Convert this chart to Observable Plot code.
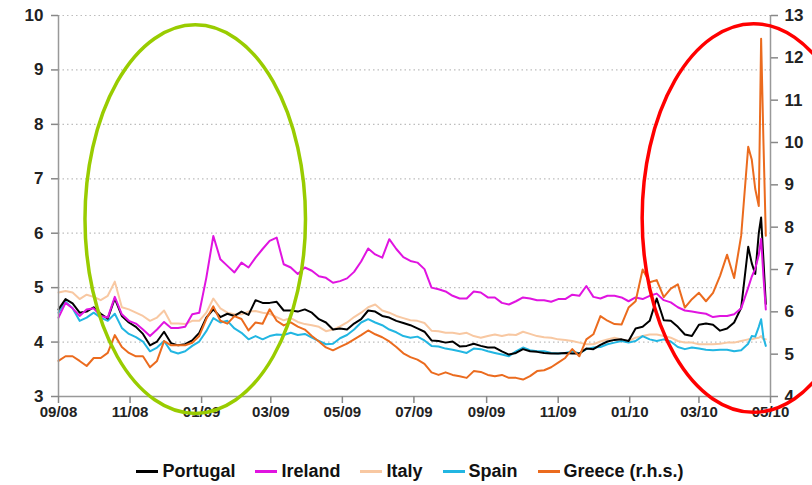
<!DOCTYPE html>
<html><head><meta charset="utf-8">
<script src="https://cdn.jsdelivr.net/npm/d3@7"></script>
<script src="https://cdn.jsdelivr.net/npm/@observablehq/plot@0.6"></script>
<style>
body{margin:0;background:#fff;font-family:"Liberation Sans",Arial,sans-serif;}
#legend{display:flex;justify-content:center;align-items:center;height:33px;padding-top:3px;font-weight:bold;font-size:18px;color:#111;padding-left:8px}
#legend .it{display:flex;align-items:center;margin:0 10px}
#legend .sw{display:inline-block;width:22px;height:3px;margin-right:4px}
</style></head><body><div id="chart"></div><div id="legend"></div>
<script>
// sample positions: days after 2008-09-01
const days = [0,6,12,18,24,30,36,42,48,54,60,66,72,78,84,90,96,102,108,114,120,126,132,138,144,150,156,162,168,174,180,186,192,198,204,210,216,222,228,234,240,246,252,258,264,270,276,282,288,294,300,306,312,318,324,330,336,342,348,354,360,366,372,378,384,390,396,402,408,414,420,426,432,438,444,450,456,462,468,474,480,486,492,498,504,510,516,522,528,534,540,546,552,558,564,570,576,582,588,591,594,597,599,601,603];
const portugal = [4.60,4.79,4.71,4.54,4.56,4.64,4.52,4.43,4.80,4.48,4.36,4.28,4.15,3.94,4.01,4.19,3.98,3.94,3.96,4.03,
 4.17,4.45,4.60,4.46,4.52,4.48,4.56,4.50,4.77,4.72,4.72,4.74,4.58,4.58,4.56,4.60,4.54,4.42,4.36,4.23,
 4.25,4.23,4.34,4.42,4.58,4.56,4.48,4.45,4.39,4.35,4.31,4.25,4.19,4.03,4.02,3.99,4.01,3.92,3.93,3.97,
 3.93,3.90,3.90,3.83,3.77,3.80,3.87,3.83,3.82,3.80,3.79,3.79,3.80,3.79,3.79,3.88,3.87,3.95,4.01,4.04,
 4.05,4.02,4.25,4.28,4.39,4.80,4.40,4.39,4.28,4.14,4.11,4.32,4.34,4.32,4.21,4.25,4.36,4.63,5.75,
 5.45,5.25,6.00,6.29,5.50,4.70];
const ireland = [4.45,4.72,4.62,4.48,4.60,4.62,4.48,4.45,4.83,4.51,4.39,4.34,4.23,4.11,4.23,4.37,4.26,4.26,4.28,4.51,
 4.54,5.18,5.95,5.52,5.40,5.28,5.46,5.37,5.55,5.71,5.86,5.92,5.43,5.37,5.25,5.37,5.31,5.21,5.18,5.09,
 5.12,5.17,5.29,5.48,5.72,5.61,5.55,5.89,5.71,5.56,5.49,5.46,5.34,5.00,4.97,4.93,4.85,4.80,4.80,4.93,
 4.91,4.82,4.82,4.72,4.69,4.75,4.82,4.80,4.77,4.77,4.74,4.79,4.79,4.87,4.85,5.03,4.83,4.80,4.85,4.85,
 4.82,4.75,4.82,4.79,4.85,4.89,4.77,4.73,4.64,4.58,4.56,4.54,4.52,4.46,4.48,4.48,4.51,4.62,5.00,
 5.20,5.35,5.60,5.90,5.20,4.60];
const italy = [4.91,4.94,4.91,4.79,4.87,4.83,4.77,4.85,5.11,4.64,4.60,4.54,4.48,4.39,4.45,4.58,4.34,4.34,4.33,4.39,
 4.39,4.54,4.80,4.62,4.54,4.51,4.51,4.56,4.57,4.54,4.52,4.46,4.40,4.44,4.37,4.33,4.31,4.28,4.20,4.23,
 4.29,4.36,4.46,4.54,4.64,4.69,4.58,4.54,4.48,4.44,4.40,4.39,4.35,4.21,4.20,4.17,4.17,4.15,4.17,4.11,
 4.08,4.11,4.14,4.11,4.14,4.13,4.19,4.15,4.11,4.09,4.08,4.05,4.04,4.02,3.99,3.96,3.96,4.01,4.05,4.08,
 4.05,4.02,4.08,4.11,4.14,4.14,4.11,4.08,4.02,3.99,3.99,3.96,3.96,3.96,3.97,3.99,3.99,4.02,4.05,
 4.05,4.07,4.08,4.11,4.05,4.05];
const spain = [4.54,4.74,4.62,4.39,4.45,4.54,4.45,4.39,4.52,4.26,4.15,4.09,4.01,3.83,3.90,4.02,3.83,3.79,3.83,3.93,
 4.01,4.20,4.44,4.36,4.39,4.25,4.17,4.05,4.11,4.05,4.11,4.14,4.13,4.17,4.13,4.15,4.08,4.02,3.96,3.97,
 4.07,4.13,4.23,4.36,4.42,4.36,4.31,4.23,4.18,4.11,4.08,4.10,4.03,3.93,3.92,3.88,3.86,3.83,3.80,3.88,
 3.87,3.83,3.80,3.77,3.74,3.83,3.90,3.85,3.83,3.83,3.80,3.79,3.80,3.83,3.79,3.87,3.90,3.91,3.96,3.99,
 4.02,3.99,4.02,4.11,4.05,4.02,4.05,4.01,3.91,3.87,3.90,3.88,3.86,3.85,3.86,3.86,3.83,3.85,3.97,
 4.11,4.10,4.28,4.42,4.08,3.93];
// Greece on the right-hand scale (4..13)
const greece = [4.84,4.95,4.95,4.84,4.72,4.91,4.91,5.03,5.45,5.17,5.03,4.95,4.95,4.69,4.84,5.31,5.21,5.21,5.21,5.27,
 5.43,5.83,6.13,5.79,5.72,5.90,5.83,5.56,5.75,5.72,6.06,5.79,5.68,5.75,5.65,5.58,5.43,5.30,5.16,5.09,
 5.17,5.25,5.35,5.45,5.56,5.47,5.40,5.30,5.17,5.02,4.93,4.87,4.77,4.57,4.51,4.57,4.51,4.48,4.44,4.60,
 4.58,4.51,4.48,4.51,4.44,4.44,4.40,4.48,4.60,4.62,4.69,4.80,4.91,5.12,4.95,5.35,5.47,5.90,5.79,5.71,
 5.70,6.10,6.25,7.00,6.70,6.75,6.35,6.55,6.65,6.10,6.30,6.45,6.25,6.45,6.85,7.35,6.80,7.80,9.90,
 9.60,8.90,8.50,12.45,10.00,7.80];

const seriesNames = ["Portugal","Ireland","Italy","Spain","Greece (r.h.s.)"];
const seriesColors = ["#000000","#e014e0","#f8c8a2","#22b6e2","#eb6b1e"];
const xTickLabels = ["09/08","11/08","01/09","03/09","05/09","07/09","09/09","11/09","01/10","03/10","05/10"];
const leftTicks = [3,4,5,6,7,8,9,10];
const rightTicks = [4,5,6,7,8,9,10,11,12,13];
// annotation ellipses: centre (days, left-axis value), half-width (days), half-height (left-axis units)
const ellipseCenterDays = [117, 593];
const ellipseCenterValue = [6.25, 6.27];
const ellipseHalfDays = [94, 95];
const ellipseHalfValue = [3.57, 3.57];
const ellipseColors = ["#99cc00", "#ff0000"];

const start = Date.UTC(2008, 8, 1);
const toDate = d => new Date(start + d * 864e5);
const parseTick = s => new Date(Date.UTC(2000 + +s.slice(3), +s.slice(0, 2) - 1, 1));
const toLeft = r => 3 + (r - 4) * 7 / 9;
const toRight = l => 4 + (l - 3) * 9 / 7;

const all = [portugal, ireland, italy, spain, greece];
const rows = [];
all.forEach((arr, s) => arr.forEach((v, i) => rows.push({name: seriesNames[s], date: toDate(days[i]), value: s === 4 ? toLeft(v) : v})));
const drawOrder = ["Italy", "Spain", "Portugal", "Ireland", "Greece (r.h.s.)"];

const W = 812, H = 452, ML = 58, MR = 42, MT = 15, MB = 56;
const xDomain = [parseTick("09/08"), parseTick("05/10")];
const grid = {stroke: "#bdbdbd", strokeDasharray: "1.5,3", strokeWidth: 1.2};

const plot = Plot.plot({
  width: W, height: H, marginLeft: ML, marginRight: MR, marginTop: MT, marginBottom: MB,
  style: {fontFamily: "Liberation Sans, Arial, sans-serif", fontSize: "15px", fontWeight: "bold", color: "#222", background: "#fff", overflow: "visible"},
  x: {type: "utc", domain: xDomain, label: null},
  y: {domain: [3, 10], label: null},
  color: {domain: seriesNames, range: seriesColors},
  marks: [
    Plot.ruleY(leftTicks.slice(1), grid),
    ...drawOrder.map(n => Plot.line(rows.filter(r => r.name === n), {x: "date", y: "value", stroke: "name", strokeWidth: 2})),
    Plot.ruleX([xDomain[0]], {stroke: "#999", strokeWidth: 1.5}),
    Plot.ruleX([xDomain[1]], {stroke: "#999", strokeWidth: 1.5}),
    Plot.ruleY([3], {stroke: "#999", strokeWidth: 1.5}),
    Plot.axisY(leftTicks, {anchor: "left", tickSize: 7, tickPadding: 8, stroke: "#888", strokeWidth: 1.5, fontSize: 17, tickFormat: d => String(d)}),
    Plot.axisY(rightTicks.map(toLeft), {anchor: "right", tickSize: 7, tickPadding: 7, stroke: "#888", strokeWidth: 1.5, fontSize: 17, tickFormat: l => String(Math.round(toRight(l)))}),
    Plot.axisX(xTickLabels.map(parseTick), {anchor: "bottom", tickSize: 7, tickPadding: 3, stroke: "#888", strokeWidth: 1.5, fontSize: 15, tickFormat: d3.utcFormat("%m/%y")})
  ]
});
document.getElementById("chart").appendChild(plot);

// annotation ellipses positioned with the plot's own scales
const sx = plot.scale("x"), sy = plot.scale("y");
const xf = sx.apply ? (v => sx.apply(v)) : d3.scaleUtc(xDomain, [ML, W - MR]);
const yf = sy.apply ? (v => sy.apply(v)) : d3.scaleLinear([3, 10], [H - MB, MT]);
const svg = d3.select(plot);
ellipseCenterDays.forEach((cd, i) => {
  const cx = xf(toDate(cd)), cy = yf(ellipseCenterValue[i]);
  const rx = xf(toDate(cd + ellipseHalfDays[i])) - cx;
  const ry = cy - yf(ellipseCenterValue[i] + ellipseHalfValue[i]);
  svg.append("ellipse").attr("cx", cx).attr("cy", cy).attr("rx", rx).attr("ry", ry)
    .attr("fill", "none").attr("stroke", ellipseColors[i]).attr("stroke-width", 3.5);
});

const leg = document.getElementById("legend");
seriesNames.forEach((n, i) => {
  const it = document.createElement("span"); it.className = "it";
  const sw = document.createElement("span"); sw.className = "sw"; sw.style.background = seriesColors[i];
  it.appendChild(sw); it.appendChild(document.createTextNode(n)); leg.appendChild(it);
});
</script></body></html>
